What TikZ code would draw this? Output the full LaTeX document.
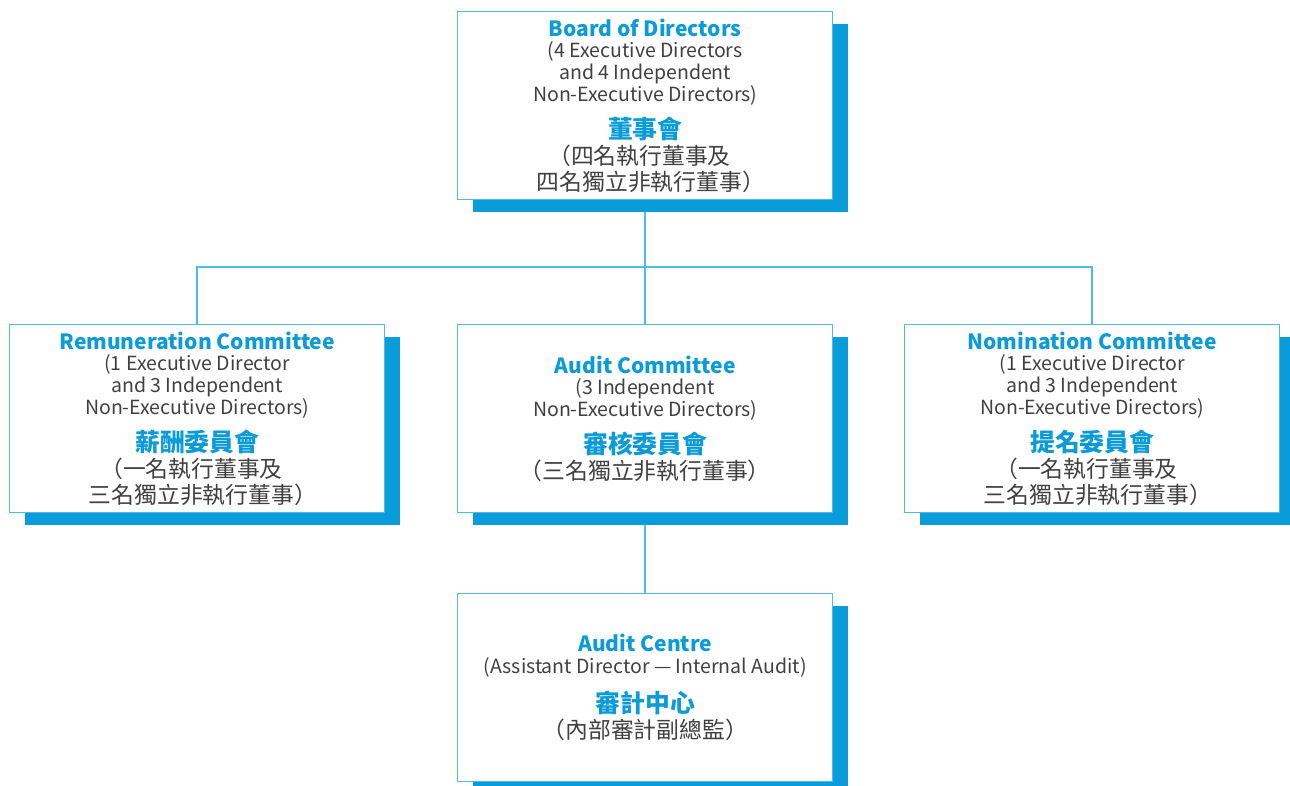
\documentclass[tikz,border=0pt]{standalone}
\usepackage{fontspec}
\setmainfont{Noto Sans CJK TC}
\usetikzlibrary{shadows,backgrounds}
\definecolor{tblue}{HTML}{0A9BD8}
\definecolor{lblue}{HTML}{4DBCEA}
\definecolor{sblue}{HTML}{089CDA}
\definecolor{tgray}{HTML}{404040}
\newcommand\boxfont{\fontsize{19.5}{21.7}\selectfont\setlength{\lineskiplimit}{-100pt}}
\newcommand\entitle[1]{{\color{tblue}\bfseries\fontsize{21}{21.7}\selectfont #1}}
\newcommand\zhtitle[1]{{\color{tblue}\bfseries\fontsize{24.8}{21.7}\selectfont #1}}
\newcommand\zhtext[1]{{\fontsize{22.8}{21.7}\selectfont #1}}
\newcommand\lp{\kern-0.5em（}
\newcommand\rp{）\kern-0.5em}
\tikzset{
  orgbox/.style={draw=lblue, line width=1.4pt, fill=white,
    minimum width=375pt, minimum height=188pt, inner sep=0pt,
    anchor=north west, align=center, text=tgray,
    font=\boxfont,
    general shadow={fill=sblue, shadow xshift=15.5pt, shadow yshift=-12pt}},
  link/.style={draw=lblue, line width=1.5pt},
}
\begin{document}
\begin{tikzpicture}[x=1pt,y=-1pt]
\useasboundingbox (0,0) rectangle (1290,786);
\node[orgbox] (board) at (457,11) {\entitle{Board of Directors}\\ (4 Executive Directors\\ and 4 Independent\\ Non-Executive Directors)\\[15.3pt] \zhtitle{董事會}\\[4.3pt] \zhtext{\lp 四名執行董事及}\\[4.3pt] \zhtext{四名獨立非執行董事\rp}};
\node[orgbox] (rem) at (9,324) {\entitle{Remuneration Committee}\\ (1 Executive Director\\ and 3 Independent\\ Non-Executive Directors)\\[15.3pt] \zhtitle{薪酬委員會}\\[4.3pt] \zhtext{\lp 一名執行董事及}\\[4.3pt] \zhtext{三名獨立非執行董事\rp}};
\node[orgbox] (aud) at (457,324) {\entitle{Audit Committee}\\ (3 Independent\\ Non-Executive Directors)\\[15.3pt] \zhtitle{審核委員會}\\[4.3pt] \zhtext{\lp 三名獨立非執行董事\rp}};
\node[orgbox] (nom) at (904,324) {\entitle{Nomination Committee}\\ (1 Executive Director\\ and 3 Independent\\ Non-Executive Directors)\\[15.3pt] \zhtitle{提名委員會}\\[4.3pt] \zhtext{\lp 一名執行董事及}\\[4.3pt] \zhtext{三名獨立非執行董事\rp}};
\node[orgbox] (cen) at (457,593) {\entitle{Audit Centre}\\ (Assistant Director — Internal Audit)\\[17pt] \zhtitle{審計中心}\\[5pt] \zhtext{\lp 內部審計副總監\rp}};
\coordinate (bus) at (0,267);
\begin{scope}[on background layer]
\draw[link] (board.south) -- (aud.north);
\draw[link] (rem.north) |- (bus -| nom.north) -- (nom.north);
\draw[link] (aud.south) -- (cen.north);
\end{scope}
\end{tikzpicture}
\end{document}
